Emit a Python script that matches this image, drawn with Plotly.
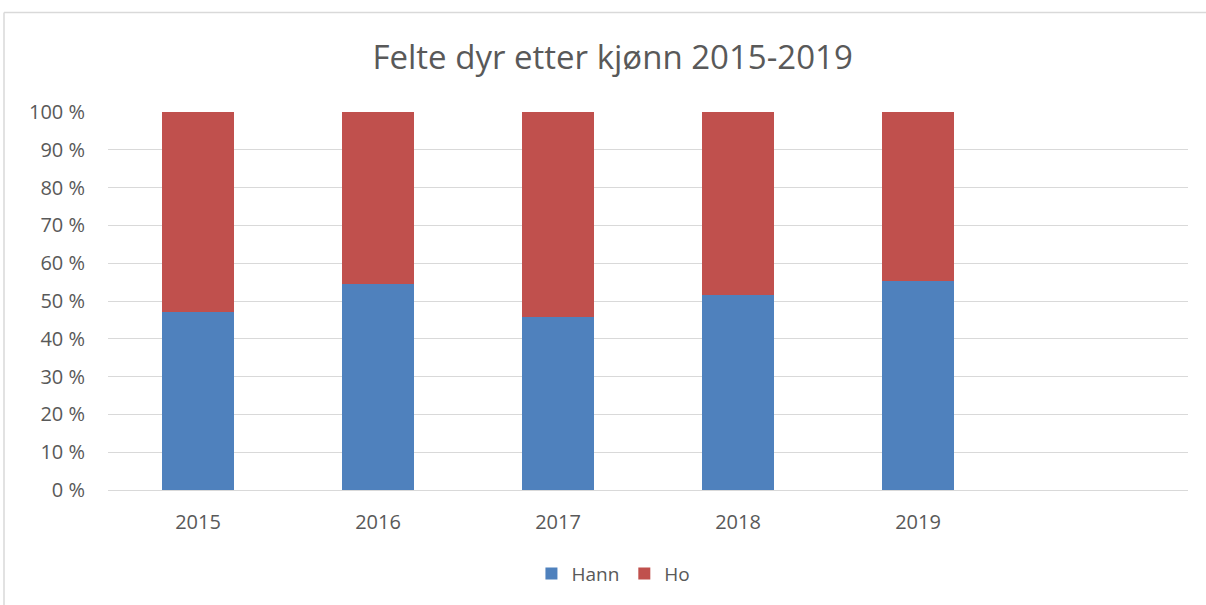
import plotly.graph_objects as go

years = ["2015", "2016", "2017", "2018", "2019"]
hann = [47.2, 54.6, 45.9, 51.6, 55.3]
ho = [round(100 - v, 1) for v in hann]

W, H = 1206, 605
L, R, T, B = 108, 18, 112, 113

font_family = "Open Sans, Liberation Sans, sans-serif"
grey = "#595959"

fig = go.Figure()
fig.add_trace(go.Bar(name="Hann", x=years, y=hann, marker=dict(color="#4f81bd", line=dict(width=0)), width=0.4))
fig.add_trace(go.Bar(name="Ho", x=years, y=ho, marker=dict(color="#c0504d", line=dict(width=0)), width=0.4))

fig.update_layout(
    width=W, height=H,
    barmode="stack",
    margin=dict(l=L, r=R, t=T, b=B),
    paper_bgcolor="white", plot_bgcolor="white",
    font=dict(family=font_family, color=grey, size=19),
    title=dict(text="Felte dyr etter kjønn 2015-2019", x=0.508, xanchor="center",
               y=1 - 57 / H, yanchor="middle", font=dict(size=33, color=grey)),
    legend=dict(orientation="h", x=0.468, xanchor="center", y=-(576 - (H - B)) / (H - T - B), yanchor="middle",
                font=dict(size=19, color=grey), traceorder="normal", itemwidth=30),
    showlegend=True,
    xaxis=dict(type="category", categoryorder="array", categoryarray=years,
               range=[-0.5, 5.5], showgrid=False, zeroline=False, showline=False,
               ticks="", tickfont=dict(size=20, color=grey), ticklabelstandoff=18),
    yaxis=dict(range=[0, 100], tickvals=list(range(0, 101, 10)),
               ticktext=[f"{v} %" for v in range(0, 101, 10)],
               showgrid=True, gridcolor="#d9d9d9", gridwidth=1.3,
               zeroline=True, zerolinecolor="#d9d9d9", zerolinewidth=1.3,
               showline=False, ticks="", tickfont=dict(size=20, color=grey),
               ticklabelstandoff=22),
    bargap=0.6,
)

# chart area border (top-left corner visible)
fig.add_shape(type="line", xref="paper", yref="paper",
              x0=(4 - L) / (W - L - R), x1=(W + 5 - L) / (W - L - R),
              y0=(H - B - 12) / (H - T - B), y1=(H - B - 12) / (H - T - B),
              line=dict(color="#d9d9d9", width=1.5))
fig.add_shape(type="line", xref="paper", yref="paper",
              x0=(4 - L) / (W - L - R), x1=(4 - L) / (W - L - R),
              y0=(H - B - 12) / (H - T - B), y1=(H - B - 610) / (H - T - B),
              line=dict(color="#d9d9d9", width=1.5))

fig.write_html("out.html", config={"displayModeBar": False},
               post_script="document.body.style.margin='0';document.body.style.overflow='hidden';")
